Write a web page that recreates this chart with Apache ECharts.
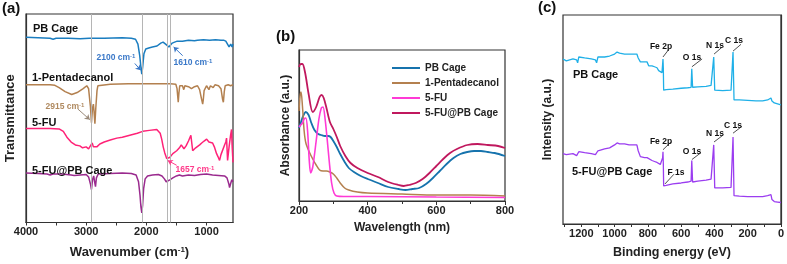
<!DOCTYPE html>
<html>
<head>
<meta charset="utf-8">
<script src="https://cdn.jsdelivr.net/npm/echarts@6/dist/echarts.min.js"></script>
<style>
  html, body { margin: 0; padding: 0; background: #fff; }
  #main { width: 787px; height: 264px; }
</style>
</head>
<body>
<div id="main"></div>
<script>
// (a) FTIR, [wavenumber, offset transmittance]
var irPbCage = [[4000,191],[3800,190.5],[3600,190],[3550,189],[3500,190],[3300,190],[3100,189.5],[2950,190],[2700,190],[2400,190.5],[2250,190],[2180,189],[2140,184],[2110,172],[2090,160],[2076,153],[2062,160],[2040,174],[2010,179],[1960,180],[1900,181],[1823,182],[1760,185],[1722,186],[1680,184],[1655,182],[1625,181],[1605,183],[1570,185],[1530,186],[1487,187],[1400,187],[1300,188],[1200,187.5],[1152,188],[1050,188.5],[950,188],[850,188.5],[760,188],[717,188],[680,187],[650,186],[625,181],[610,179],[598,184],[585,186],[575,181],[560,184]];
var irPenta = [[4000,142],[3800,142],[3600,142],[3520,141.5],[3450,139],[3350,135],[3240,132],[3150,134],[3050,138],[2990,141],[2960,138],[2930,120],[2912,103],[2895,118],[2880,122],[2870,115],[2855,102],[2840,118],[2820,136],[2806,141],[2600,142.5],[2300,143],[2000,143],[1800,143],[1600,143],[1510,142.5],[1490,138],[1470,124],[1458,134],[1445,141],[1400,141],[1378,137],[1360,141],[1300,140],[1250,138],[1200,140],[1150,141],[1115,137],[1085,128],[1064,122],[1055,126],[1040,136],[1000,141],[960,137],[935,141],[890,139],[860,142],[800,141],[760,138],[733,127],[720,124],[705,135],[690,141],[640,142],[600,141],[560,142]];
var irFu = [[4000,97],[3800,97],[3600,97],[3450,96.5],[3380,94],[3320,88],[3250,83],[3180,80],[3105,79],[3060,77],[3000,78],[2960,76],[2930,78],[2900,82],[2880,78],[2850,77],[2823,78],[2773,81],[2700,83],[2600,85],[2491,87],[2400,88],[2275,90],[2150,92],[2060,94],[1950,95],[1827,96],[1810,95.5],[1770,92],[1745,86],[1720,78],[1695,72],[1662,66],[1640,68],[1612,67],[1560,71],[1496,74],[1450,77],[1420,80],[1396,82],[1375,76],[1340,79],[1300,84],[1260,90],[1247,92],[1230,74],[1180,77],[1150,79],[1114,80],[1080,82],[1040,84],[998,86],[960,83],[930,84],[899,82],[870,78],[850,80],[833,71],[810,68],[783,64],[760,70],[733,72],[700,80],[680,83],[667,87],[650,64],[625,78],[600,90],[584,96],[575,80],[560,62]];
var irFuPb = [[4000,51],[3800,50.5],[3650,50],[3600,49],[3550,50],[3400,50],[3250,49],[3200,48.5],[3100,49],[3000,49.5],[2960,47],[2930,40],[2912,34],[2895,44],[2875,48],[2860,42],[2845,37],[2830,46],[2800,50],[2600,50.5],[2400,51],[2250,50.5],[2170,49],[2130,42],[2105,28],[2090,16],[2076,10],[2062,18],[2045,35],[2020,45],[1980,48],[1900,49],[1800,49.5],[1740,48],[1700,45],[1670,42],[1640,43],[1610,44],[1560,46],[1500,48],[1450,49],[1400,48],[1300,49],[1200,48.5],[1100,49.5],[1000,50],[900,49],[800,48.5],[700,48],[660,46],[630,40],[617,36],[600,40],[580,44],[560,42]];
var irGuides = [2915, 2076, 1657, 1610];

// (b) UV-vis, [wavelength, offset absorbance]
var uvPbCage = [[200,73],[205,78],[212,85],[220,89],[228,86],[236,78],[245,71],[256,67],[265,66],[275,65],[285,65],[292,64],[300,60],[310,54],[320,47],[333,39],[345,33],[360,29],[380,25],[400,22],[430,18],[460,14],[490,12],[510,11],[530,12],[550,13],[570,17],[590,23],[610,30],[630,37],[650,43],[670,47],[690,49],[710,50],[730,50],[750,49],[770,48],[800,45]];
var uvPenta = [[200,90],[203,105],[206,109],[210,95],[215,70],[220,58],[230,49],[240,42],[250,36],[260,31],[270,30],[280,30],[290,29],[300,27],[310,23],[320,18],[333,13],[345,11],[370,9],[400,8],[500,7],[600,6],[700,6],[800,5]];
var uvFu = [[200,74],[205,76],[210,78],[215,82],[220,83],[225,70],[230,40],[234,28],[240,34],[250,60],[258,82],[265,93],[270,94],[276,82],[282,62],[288,40],[295,18],[302,8],[310,5],[330,4.5],[400,4.5],[600,4],[800,3.5]];
var uvFuPb = [[200,134],[205,137],[210,137],[218,128],[228,107],[240,89],[250,94],[260,104],[266,106],[272,103],[280,93],[290,79],[300,72],[310,64],[320,55],[335,45],[350,38],[370,33],[400,28],[430,24],[460,19],[490,16],[505,15],[520,16],[540,18],[560,22],[580,28],[600,35],[620,42],[640,48],[660,52],[690,56],[720,57],[750,56],[780,55],[800,53]];

// (c) XPS survey, [binding energy, offset intensity]
var xpsPbCage = [[1310,169],[1290,167],[1250,169],[1228,168],[1222,165],[1215,171],[1180,170],[1140,169],[1115,168],[1108,165],[1100,171],[1060,171],[1030,172],[1000,174],[985,176],[978,178],[970,175],[940,174],[913,174],[880,174],[866,174],[858,170],[845,166],[820,166],[805,166],[795,162],[775,162],[760,161],[745,160],[735,157],[725,156],[715,155],[711,164],[709,169],[707,160],[705,137],[690,137.5],[650,138],[600,139],[560,139.5],[540,140],[536,159],[534,159],[531,140],[500,140.5],[450,141],[420,142],[410,141],[404,171],[401,171],[398,137],[390,136],[350,136.5],[300,137],[292,138],[288,176],[285,176],[282,127],[250,127],[200,126.5],[150,126],[110,126],[80,127],[60,129],[57,131],[54,126],[40,124],[20,123],[0,122]];
var xpsFuPb = [[1310,72],[1290,71],[1250,72],[1228,70],[1222,68],[1215,74],[1180,73],[1140,72],[1115,71],[1108,69],[1100,75],[1060,77],[1030,78],[1000,81],[985,83],[978,85],[970,82],[940,82],[913,81],[880,81],[866,81],[858,75],[845,69],[820,68],[805,68],[795,66],[775,65],[760,64],[745,63],[735,62],[725,61],[715,60],[711,68],[709,74],[707,62],[705,39],[690,39.5],[650,41],[600,42],[560,43],[540,44],[536,65],[534,65],[531,43],[500,44],[450,45],[420,46],[410,45],[404,81],[401,81],[398,37],[390,36],[350,37],[300,37.5],[292,38],[288,89],[285,89],[282,29],[250,28.5],[200,28],[150,28],[110,28],[80,29],[60,30],[57,32],[54,25],[40,23],[20,22.5],[0,22]];

var irTicks = [4000, 3500, 3000, 2500, 2000, 1500, 1000];
var irLabels = [4000, 3000, 2000, 1000];
var xpsTicks = [0, 100, 200, 300, 400, 500, 600, 700, 800, 900, 1000, 1100, 1200, 1300];
var xpsLabels = [0, 200, 400, 600, 800, 1000, 1200];

var FONT = '"Liberation Sans", Arial, sans-serif';
var chart = echarts.init(document.getElementById('main'));

function plain(v) { return String(v); }
function frameAxisLine() {
    return { show: true, lineStyle: { color: '#333', width: 1.2 } };
}
function arrowLine(color, from, to) {
    return {
        silent: true,
        symbol: ['none', 'arrow'],
        symbolSize: 5,
        label: { show: false },
        lineStyle: { color: color, width: 1, type: 'solid' },
        data: [[{ coord: from }, { coord: to }]]
    };
}
function leaders(list) {
    return {
        silent: true,
        symbol: ['none', 'none'],
        label: { show: false },
        lineStyle: { color: '#222', width: 0.8, type: 'solid' },
        data: list.map(function (p) { return [{ coord: p[0] }, { coord: p[1] }]; })
    };
}
function txt(text, x, y, size, color, align) {
    return {
        type: 'text', x: x, y: y, z: 100,
        style: {
            text: text, fill: color || '#111',
            font: 'bold ' + size + 'px ' + FONT,
            textAlign: align || 'left', textVerticalAlign: 'middle'
        }
    };
}
function supTxt(base, x, y, color) {
    return {
        type: 'text', x: x, y: y, z: 100,
        style: {
            text: '{b|' + base + ' cm}{s|-1}',
            textAlign: 'center', textVerticalAlign: 'middle',
            rich: {
                b: { fontFamily: FONT, fontWeight: 'bold', fontSize: 8.5, fill: color, color: color },
                s: { fontFamily: FONT, fontWeight: 'bold', fontSize: 6, fill: color, color: color, verticalAlign: 'top', padding: [0, 0, 4, 0] }
            }
        }
    };
}

var option = {
    animation: false,
    textStyle: { fontFamily: FONT },
    grid: [
        { left: 26, top: 14, width: 207, height: 215, show: true, borderColor: '#333', borderWidth: 1.2 },
        { left: 299, top: 50, width: 206, height: 151, show: true, borderColor: '#333', borderWidth: 1.2 },
        { left: 563, top: 15, width: 219, height: 214, show: true, borderColor: '#333', borderWidth: 1.2 }
    ],
    legend: {
        orient: 'vertical',
        left: 387, top: 57,
        itemWidth: 28, itemHeight: 2, itemGap: 3,
        icon: 'rect',
        textStyle: { fontFamily: FONT, fontWeight: 'bold', fontSize: 10, color: '#222', lineHeight: 12 },
        data: ['PB Cage', '1-Pentadecanol', '5-FU', '5-FU@PB Cage']
    },
    xAxis: [
        {
            gridIndex: 0, type: 'value', min: 560, max: 4000, inverse: true,
            axisLine: frameAxisLine(),
            axisTick: { show: true, customValues: irTicks, length: 3, lineStyle: { color: '#333' } },
            axisLabel: { customValues: irLabels, formatter: plain, fontWeight: 'bold', fontSize: 11, color: '#222', margin: 4 },
            splitLine: { show: false },
            name: '{b|Wavenumber (cm}{s|-1}{b|)}', nameLocation: 'middle', nameGap: 23,
            nameTextStyle: {
                rich: {
                    b: { fontWeight: 'bold', fontSize: 13, color: '#222', fontFamily: FONT },
                    s: { fontWeight: 'bold', fontSize: 8, color: '#222', fontFamily: FONT, verticalAlign: 'top', padding: [0, 0, 6, 0] }
                }
            }
        },
        {
            gridIndex: 1, type: 'value', min: 200, max: 800, interval: 200,
            axisLine: frameAxisLine(),
            axisTick: { show: true, length: 4, lineStyle: { color: '#333' } },
            minorTick: { show: true, splitNumber: 2, length: 3, lineStyle: { color: '#333' } },
            axisLabel: { formatter: plain, fontWeight: 'bold', fontSize: 11, color: '#222', margin: 4 },
            splitLine: { show: false },
            name: 'Wavelength (nm)', nameLocation: 'middle', nameGap: 21,
            nameTextStyle: { fontWeight: 'bold', fontSize: 12, color: '#222' }
        },
        {
            gridIndex: 2, type: 'value', min: 0, max: 1310, inverse: true,
            axisLine: frameAxisLine(),
            axisTick: { show: true, customValues: xpsTicks, length: 3, lineStyle: { color: '#333' } },
            axisLabel: { customValues: xpsLabels, formatter: plain, fontWeight: 'bold', fontSize: 11, color: '#222', margin: 4 },
            splitLine: { show: false },
            name: 'Binding energy (eV)', nameLocation: 'middle', nameGap: 22,
            nameTextStyle: { fontWeight: 'bold', fontSize: 12.5, color: '#222' }
        }
    ],
    yAxis: [
        {
            gridIndex: 0, type: 'value', min: 0, max: 215,
            axisLine: frameAxisLine(), axisTick: { show: false }, axisLabel: { show: false }, splitLine: { show: false },
            name: 'Transmittance', nameLocation: 'middle', nameGap: 9,
            nameTextStyle: { fontWeight: 'bold', fontSize: 13, color: '#222' }
        },
        {
            gridIndex: 1, type: 'value', min: 0, max: 151,
            axisLine: frameAxisLine(), axisTick: { show: false }, axisLabel: { show: false }, splitLine: { show: false },
            name: 'Absorbance (a.u.)', nameLocation: 'middle', nameGap: 7,
            nameTextStyle: { fontWeight: 'bold', fontSize: 12, color: '#222' }
        },
        {
            gridIndex: 2, type: 'value', min: 0, max: 214,
            axisLine: frameAxisLine(), axisTick: { show: false }, axisLabel: { show: false }, splitLine: { show: false },
            name: 'Intensity (a.u.)', nameLocation: 'middle', nameGap: 9,
            nameTextStyle: { fontWeight: 'bold', fontSize: 12, color: '#222' }
        }
    ],
    series: [
        // guide lines (a)
        {
            name: 'guides', type: 'line', xAxisIndex: 0, yAxisIndex: 0, data: [], z: 1,
            markLine: {
                silent: true, symbol: ['none', 'none'], label: { show: false },
                lineStyle: { color: '#b5b5b5', width: 1, type: 'solid' },
                data: irGuides.map(function (v) { return { xAxis: v }; })
            }
        },
        {
            name: 'IR PB Cage', type: 'line', xAxisIndex: 0, yAxisIndex: 0, data: irPbCage, z: 3,
            showSymbol: false, symbol: 'none', lineStyle: { color: '#1a7dc0', width: 1.5 }, itemStyle: { color: '#1a7dc0' },
            markLine: {
                silent: true, symbol: ['none', 'arrow'], symbolSize: 5, label: { show: false },
                lineStyle: { color: '#3a78c8', width: 1, type: 'solid' },
                data: [
                    [{ coord: [2192, 164] }, { coord: [2093, 157] }],
                    [{ coord: [1396, 172] }, { coord: [1546, 181] }]
                ]
            }
        },
        {
            name: 'IR 1-Pentadecanol', type: 'line', xAxisIndex: 0, yAxisIndex: 0, data: irPenta, z: 3,
            showSymbol: false, symbol: 'none', lineStyle: { color: '#b3804f', width: 1.5 }, itemStyle: { color: '#b3804f' },
            markLine: arrowLine('#9a8a7a', [3138, 117], [2939, 106])
        },
        {
            name: 'IR 5-FU', type: 'line', xAxisIndex: 0, yAxisIndex: 0, data: irFu, z: 3,
            showSymbol: false, symbol: 'none', lineStyle: { color: '#ff2277', width: 1.5 }, itemStyle: { color: '#ff2277' },
            markLine: arrowLine('#ff3a8a', [1496, 59], [1645, 64])
        },
        {
            name: 'IR 5-FU@PB Cage', type: 'line', xAxisIndex: 0, yAxisIndex: 0, data: irFuPb, z: 3,
            showSymbol: false, symbol: 'none', lineStyle: { color: '#9a2a8e', width: 1.5 }, itemStyle: { color: '#9a2a8e' }
        },
        // (b)
        {
            name: 'PB Cage', type: 'line', xAxisIndex: 1, yAxisIndex: 1, data: uvPbCage, smooth: 0.3,
            showSymbol: false, symbol: 'none', lineStyle: { color: '#1673ad', width: 1.8 }, itemStyle: { color: '#1673ad' }
        },
        {
            name: '1-Pentadecanol', type: 'line', xAxisIndex: 1, yAxisIndex: 1, data: uvPenta, smooth: 0.3,
            showSymbol: false, symbol: 'none', lineStyle: { color: '#b4804f', width: 1.5 }, itemStyle: { color: '#b4804f' }
        },
        {
            name: '5-FU', type: 'line', xAxisIndex: 1, yAxisIndex: 1, data: uvFu, smooth: 0.3,
            showSymbol: false, symbol: 'none', lineStyle: { color: '#ff3ad6', width: 1.6 }, itemStyle: { color: '#ff3ad6' }
        },
        {
            name: '5-FU@PB Cage', type: 'line', xAxisIndex: 1, yAxisIndex: 1, data: uvFuPb, smooth: 0.3,
            showSymbol: false, symbol: 'none', lineStyle: { color: '#c0185e', width: 1.8 }, itemStyle: { color: '#c0185e' }
        },
        // (c)
        {
            name: 'XPS PB Cage', type: 'line', xAxisIndex: 2, yAxisIndex: 2, data: xpsPbCage,
            showSymbol: false, symbol: 'none', lineStyle: { color: '#1fb0e8', width: 1.3 }, itemStyle: { color: '#1fb0e8' },
            markLine: leaders([
                [[709, 171], [673, 179]],
                [[535, 161], [474, 169]],
                [[402, 174], [354, 181]],
                [[288, 177], [240, 184]]
            ])
        },
        {
            name: 'XPS 5-FU@PB Cage', type: 'line', xAxisIndex: 2, yAxisIndex: 2, data: xpsFuPb,
            showSymbol: false, symbol: 'none', lineStyle: { color: '#9b3df0', width: 1.3 }, itemStyle: { color: '#9b3df0' },
            markLine: leaders([
                [[709, 76], [661, 84]],
                [[697, 41], [643, 51]],
                [[535, 66], [481, 73]],
                [[402, 84], [348, 91]],
                [[288, 93], [234, 100]]
            ])
        }
    ],
    graphic: [
        txt('(a)', 2, 9, 15, '#111'),
        txt('(b)', 276, 37, 15, '#111'),
        txt('(c)', 538, 8, 15, '#111'),
        txt('PB Cage', 33, 29, 11),
        txt('1-Pentadecanol', 32, 78, 11),
        txt('5-FU', 32, 123, 11),
        txt('5-FU@PB Cage', 32, 171, 11),
        supTxt('2100', 116, 58, '#3a78c8'),
        supTxt('1610', 193, 63, '#3a78c8'),
        supTxt('2915', 65, 107, '#b08a60'),
        supTxt('1657', 195, 170, '#ff3a8a'),
        txt('PB Cage', 573, 75, 11),
        txt('5-FU@PB Cage', 572, 172, 11),
        txt('Fe 2p', 661, 47, 8.5, '#111', 'center'),
        txt('O 1s', 692, 58, 8.5, '#111', 'center'),
        txt('N 1s', 715, 46, 8.5, '#111', 'center'),
        txt('C 1s', 734, 41, 8.5, '#111', 'center'),
        txt('Fe 2p', 661, 142, 8.5, '#111', 'center'),
        txt('F 1s', 676, 173, 8.5, '#111', 'center'),
        txt('O 1s', 692, 152, 8.5, '#111', 'center'),
        txt('N 1s', 715, 134, 8.5, '#111', 'center'),
        txt('C 1s', 733, 126, 8.5, '#111', 'center')
    ]
};

chart.setOption(option);
</script>
</body>
</html>
